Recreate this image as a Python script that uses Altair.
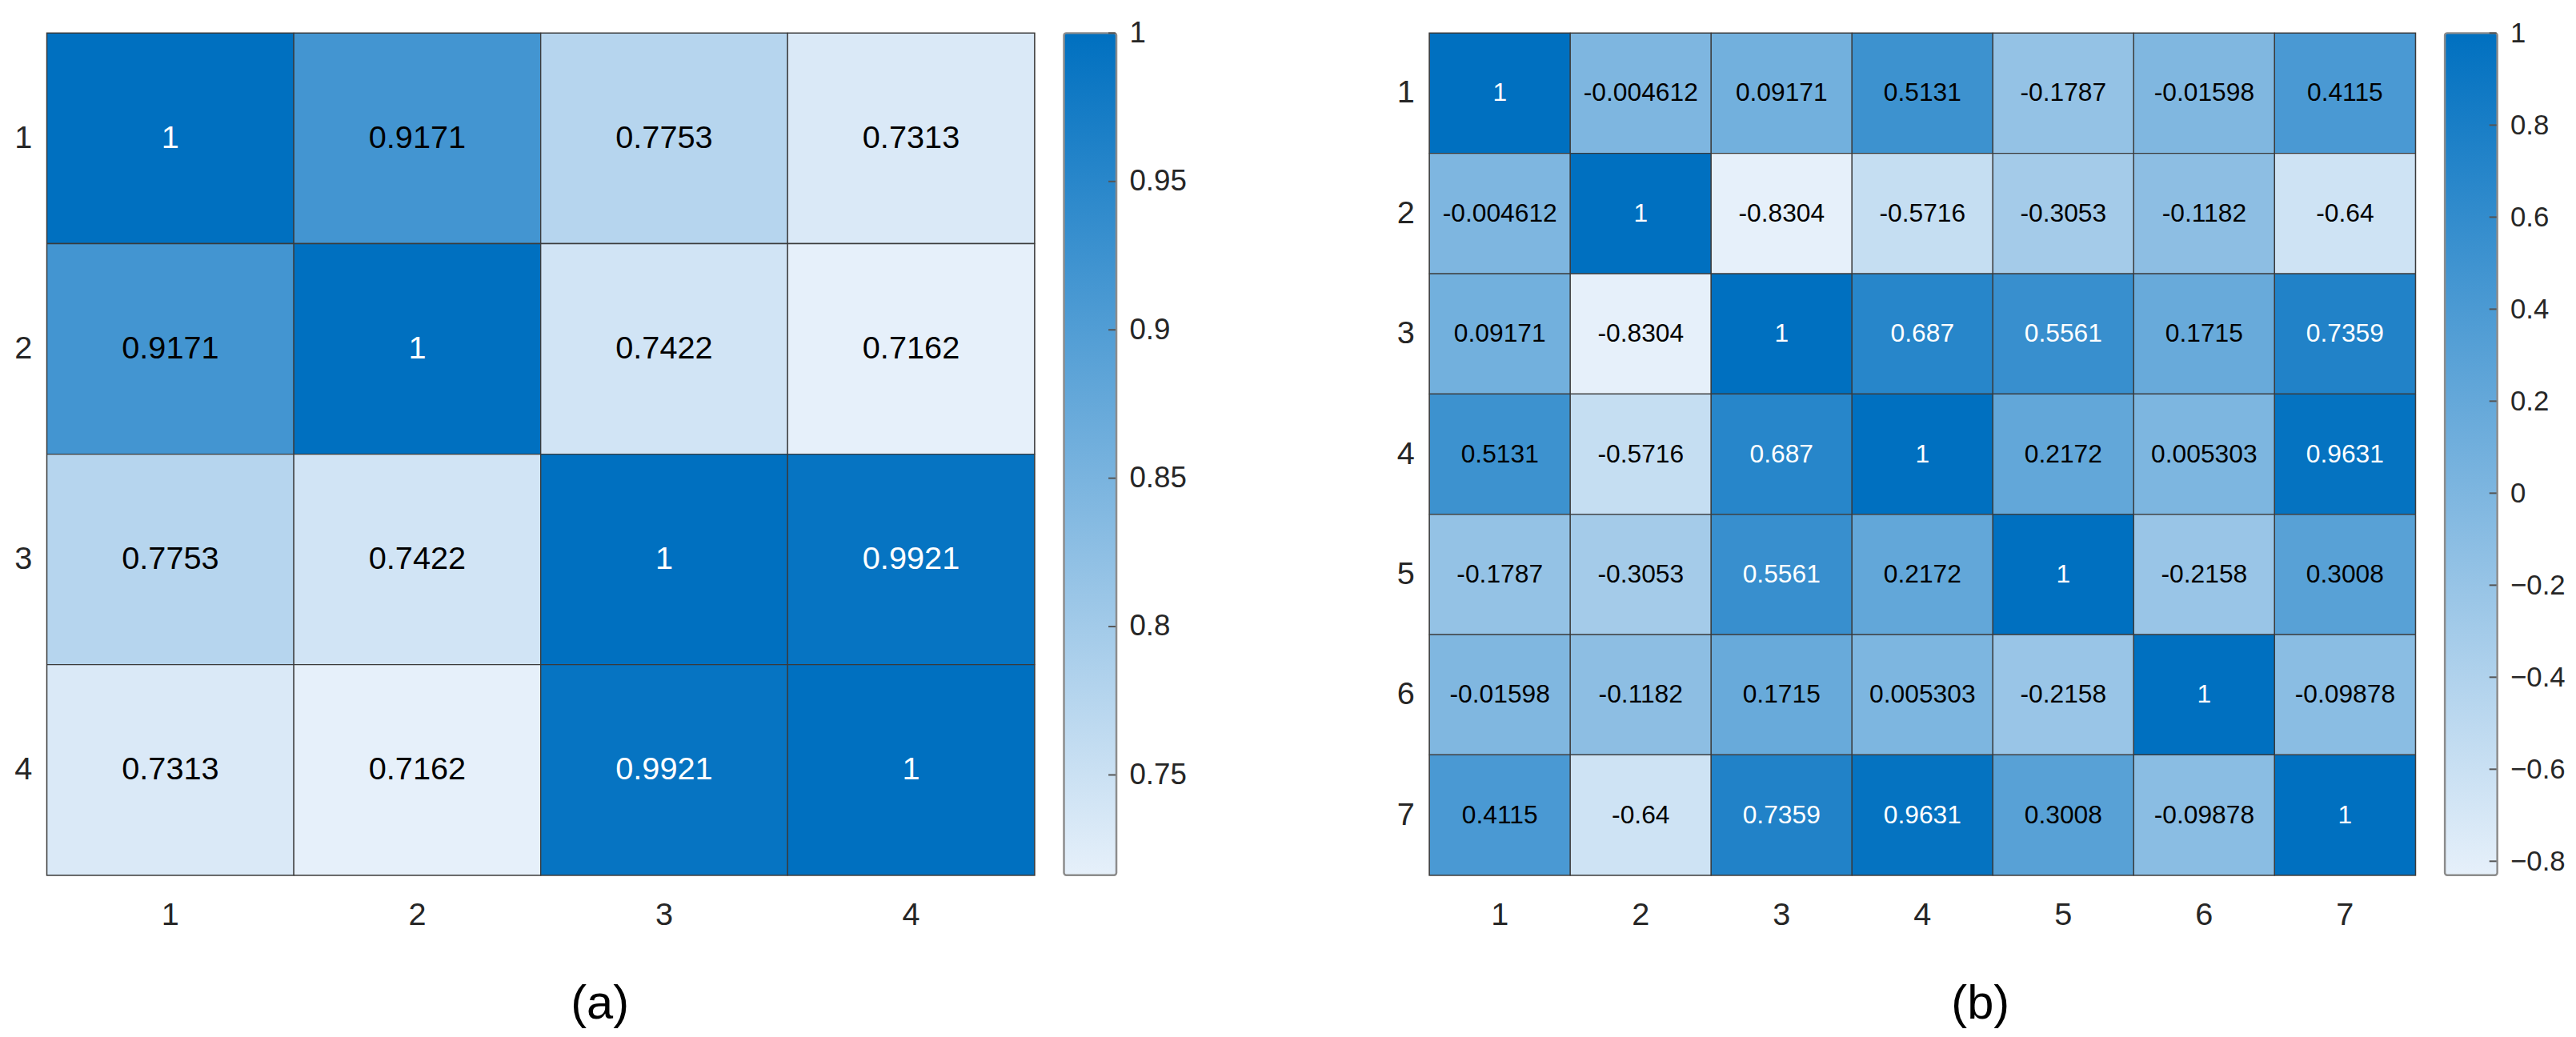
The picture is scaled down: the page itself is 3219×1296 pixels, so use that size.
import altair as alt
import pandas as pd

# ---- data ----
labels_a = ["1", "2", "3", "4"]
matrix_a = [
    [1, 0.9171, 0.7753, 0.7313],
    [0.9171, 1, 0.7422, 0.7162],
    [0.7753, 0.7422, 1, 0.9921],
    [0.7313, 0.7162, 0.9921, 1],
]
ticks_a = [0.75, 0.8, 0.85, 0.9, 0.95, 1]

labels_b = ["1", "2", "3", "4", "5", "6", "7"]
matrix_b = [
    [1, -0.004612, 0.09171, 0.5131, -0.1787, -0.01598, 0.4115],
    [-0.004612, 1, -0.8304, -0.5716, -0.3053, -0.1182, -0.64],
    [0.09171, -0.8304, 1, 0.687, 0.5561, 0.1715, 0.7359],
    [0.5131, -0.5716, 0.687, 1, 0.2172, 0.005303, 0.9631],
    [-0.1787, -0.3053, 0.5561, 0.2172, 1, -0.2158, 0.3008],
    [-0.01598, -0.1182, 0.1715, 0.005303, -0.2158, 1, -0.09878],
    [0.4115, -0.64, 0.7359, 0.9631, 0.3008, -0.09878, 1],
]
ticks_b = [-0.8, -0.6, -0.4, -0.2, 0, 0.2, 0.4, 0.6, 0.8, 1]

captions = ["(a)", "(b)"]

# ---- style ----
FONT = "Liberation Sans"
LIGHT = "#e6f0fa"
DARK = "#0070c0"
AXIS_COLOR = "#262626"
H = 1060
BAR_W = 66


def table(labels, matrix):
    rows = []
    for i, r in enumerate(labels):
        for j, c in enumerate(labels):
            v = matrix[i][j]
            rows.append({"row": r, "col": c, "v": v, "lab": f"{v:.4g}"})
    return pd.DataFrame(rows)


def panel(labels, matrix, ticks, caption, width, text_size, bar_label_size):
    df = table(labels, matrix)
    lo = min(min(r) for r in matrix)
    hi = max(max(r) for r in matrix)
    thr = lo + 0.745 * (hi - lo)
    cscale = alt.Scale(domain=[lo, hi], range=[LIGHT, DARK], interpolate="rgb")

    base = alt.Chart(df).encode(
        x=alt.X("col:O", sort=labels, title=None,
                scale=alt.Scale(paddingInner=0, paddingOuter=0),
                axis=alt.Axis(labelAngle=0, labelFontSize=40, labelFont=FONT,
                              labelColor=AXIS_COLOR, labelPadding=30,
                              ticks=False, tickSize=0, domain=False,
                              labelBaseline="top")),
        y=alt.Y("row:O", sort=labels, title=None,
                scale=alt.Scale(paddingInner=0, paddingOuter=0),
                axis=alt.Axis(labelFontSize=40, labelFont=FONT,
                              labelColor=AXIS_COLOR, labelPadding=19,
                              ticks=False, tickSize=0, domain=False)),
    )
    rects = base.mark_rect(stroke="#3a3a3a", strokeWidth=1.3).encode(
        color=alt.Color("v:Q", scale=cscale, legend=None)
    )
    texts = base.mark_text(font=FONT, fontSize=text_size).encode(
        text="lab:N",
        color=alt.condition(f"datum.v > {thr}", alt.value("#ffffff"), alt.value("#000000")),
    )
    heat = alt.layer(rects, texts).properties(
        width=width, height=H,
        view=alt.ViewBackground(stroke="#8c8c8c", strokeWidth=2),
    )

    bar_df = pd.DataFrame([{"lo": lo, "hi": hi}])
    yscale = alt.Scale(domain=[lo, hi], nice=False, zero=False)
    grad = alt.LinearGradient(
        gradient="linear",
        stops=[alt.GradientStop(color=LIGHT, offset=0), alt.GradientStop(color=DARK, offset=1)],
        x1=0, x2=0, y1=1, y2=0,
    )
    bar = alt.Chart(bar_df).mark_rect(
        fill=grad, stroke="#8c8c8c", strokeWidth=2.5, cornerRadius=3
    ).encode(
        y=alt.Y("lo:Q", scale=yscale, title=None,
                axis=alt.Axis(orient="right", values=ticks, labelFontSize=bar_label_size,
                              labelFont=FONT, labelColor=AXIS_COLOR,
                              labelPadding=16, ticks=False, tickSize=0,
                              domain=False, grid=False, format="~g")),
        y2="hi:Q",
        x=alt.value(0), x2=alt.value(BAR_W),
    )
    tick_df = pd.DataFrame({"t": ticks})
    tick_marks = alt.Chart(tick_df).mark_rule(color="#555555", strokeWidth=2).encode(
        y=alt.Y("t:Q", scale=yscale),
        x=alt.value(BAR_W - 10), x2=alt.value(BAR_W - 1),
    )
    cbar = alt.layer(bar, tick_marks).properties(
        width=BAR_W, height=H, view=alt.ViewBackground(stroke=None)
    )

    return alt.hconcat(heat, cbar, spacing=33).resolve_scale(
        x="independent", y="independent", color="independent"
    ).properties(
        title=alt.TitleParams(caption, orient="bottom", anchor="middle", frame="bounds",
                              font=FONT, fontSize=60, fontWeight="normal",
                              color="#000000", offset=62)
    )


pa = panel(labels_a, matrix_a, ticks_a, captions[0], 1243, 40, 37)
pb = panel(labels_b, matrix_b, ticks_b, captions[1], 1241, 32, 35)

chart = alt.hconcat(pa, pb, spacing=262).resolve_scale(
    x="independent", y="independent", color="independent"
).properties(
    padding={"left": 8, "top": 10, "right": 5, "bottom": 5},
    background="#ffffff",
).configure_view(strokeWidth=0)

chart.save("out.html", embed_options={"renderer": "svg", "actions": False})
